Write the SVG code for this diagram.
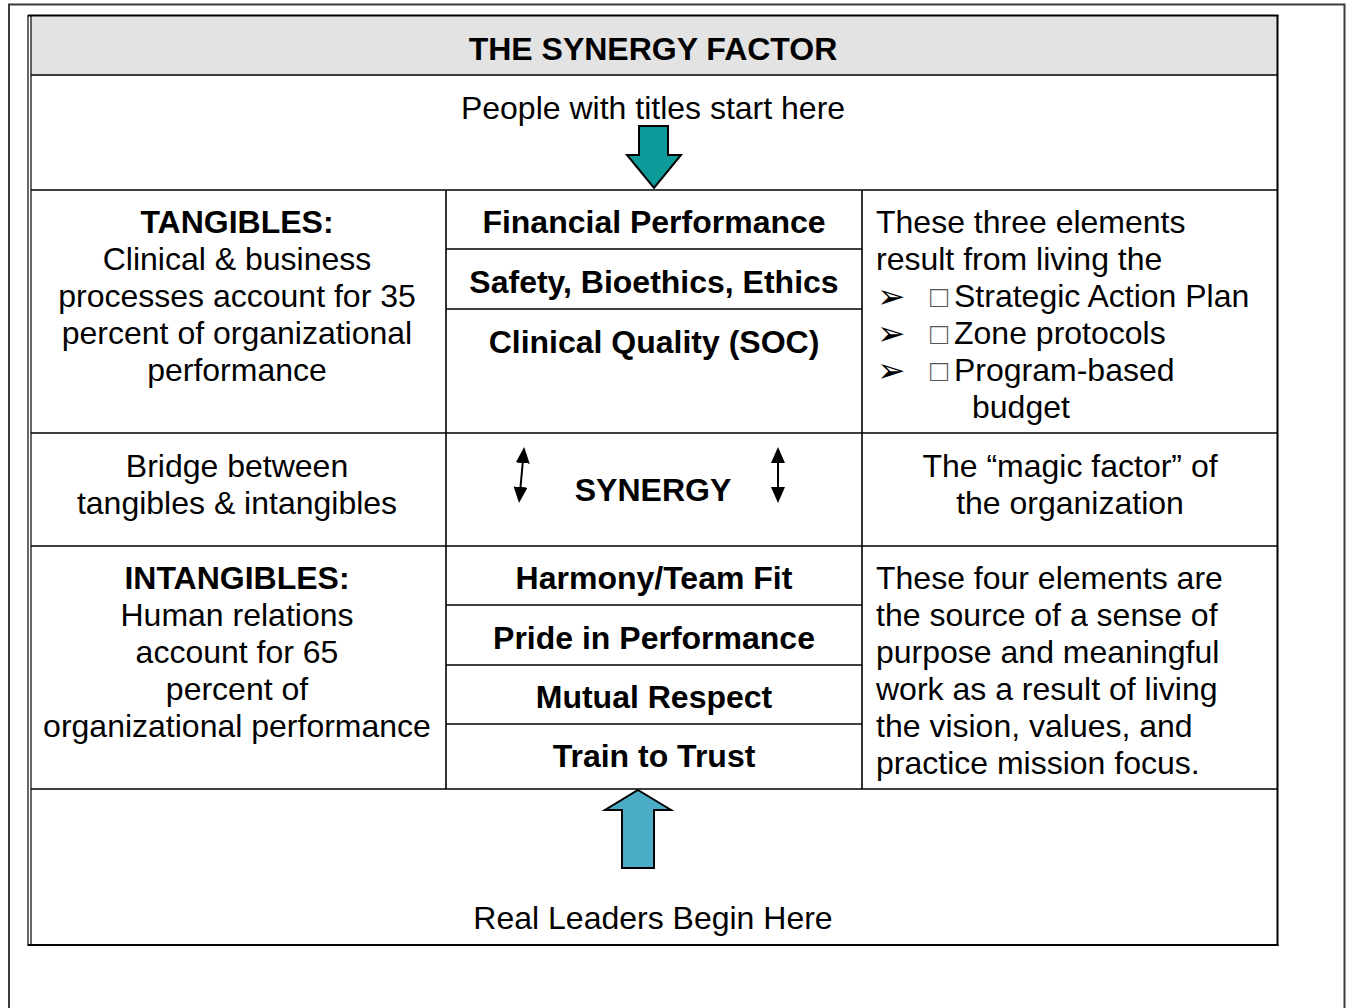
<svg xmlns="http://www.w3.org/2000/svg" width="1348" height="1008" viewBox="0 0 1348 1008">
  <style>
    text { font-family: "Liberation Sans", Arial, sans-serif; font-size: 32px; fill: #000; }
    .b { font-weight: bold; }
    .c { text-anchor: middle; }
    .grid { stroke: #000; stroke-width: 1.6; fill: none; }
    .frame { stroke: #3a3a3a; stroke-width: 2; fill: none; }
    .sym { font-family: "DejaVu Sans", sans-serif; font-size: 34px; }
    .box { font-size: 30px; fill: #555; }
    .block { stroke: #000; stroke-width: 2; stroke-linejoin: miter; }
  </style>
  <defs>
    <marker id="head" viewBox="0 0 16 14" refX="1" refY="7" markerWidth="16" markerHeight="14" markerUnits="userSpaceOnUse" orient="auto-start-reverse">
      <path d="M0,0 L16,7 L0,14 z" fill="#000"/>
    </marker>
  </defs>

  <rect width="1348" height="1008" fill="#fff"/>

  <!-- page frame -->
  <path class="frame" d="M9,1010 V4.5 H1344.5 V1010"/>

  <!-- table outline and grid -->
  <g id="table">
    <rect x="31" y="16" width="1246" height="59" fill="#e3e3e3"/>
    <line x1="28" y1="15" x2="28" y2="946" stroke="#000" stroke-width="1.2"/>
    <line x1="31" y1="16" x2="31" y2="945" stroke="#000" stroke-width="1.2"/>
    <line x1="28" y1="15.5" x2="1278.5" y2="15.5" stroke="#000" stroke-width="2"/>
    <line x1="1277.5" y1="15" x2="1277.5" y2="946" stroke="#000" stroke-width="2"/>
    <line x1="28" y1="945" x2="1278.5" y2="945" stroke="#000" stroke-width="2"/>
    <line class="grid" x1="31" y1="75" x2="1278" y2="75" stroke-width="2"/>
    <line class="grid" x1="31" y1="190" x2="1278" y2="190"/>
    <line class="grid" x1="31" y1="433" x2="1278" y2="433"/>
    <line class="grid" x1="31" y1="546" x2="1278" y2="546"/>
    <line class="grid" x1="31" y1="789" x2="1278" y2="789"/>
    <line class="grid" x1="446" y1="190" x2="446" y2="789"/>
    <line class="grid" x1="862" y1="190" x2="862" y2="789"/>
    <line class="grid" x1="446" y1="249" x2="862" y2="249"/>
    <line class="grid" x1="446" y1="309" x2="862" y2="309"/>
    <line class="grid" x1="446" y1="605" x2="862" y2="605"/>
    <line class="grid" x1="446" y1="665" x2="862" y2="665"/>
    <line class="grid" x1="446" y1="724" x2="862" y2="724"/>
  </g>

  <g id="title">
    <text class="b c" x="653" y="60">THE SYNERGY FACTOR</text>
  </g>

  <g id="top-entry">
    <text class="c" x="653" y="119">People with titles start here</text>
    <polygon class="block" fill="#0f9a9a" points="639,126 668,126 668,155 681,155 654,188 627,155 639,155"/>
  </g>

  <g id="tangibles">
    <text class="c" x="237" y="233"><tspan class="b">TANGIBLES:</tspan></text>
    <text class="c" x="237" y="270">Clinical &amp; business</text>
    <text class="c" x="237" y="307">processes account for 35</text>
    <text class="c" x="237" y="344">percent of organizational</text>
    <text class="c" x="237" y="381">performance</text>
  </g>

  <g id="financial-performance">
    <text class="b c" x="654" y="233">Financial Performance</text>
  </g>
  <g id="safety-ethics">
    <text class="b c" x="654" y="293">Safety, Bioethics, Ethics</text>
  </g>
  <g id="clinical-quality">
    <text class="b c" x="654" y="353">Clinical Quality (SOC)</text>
  </g>

  <g id="three-elements">
    <text x="876" y="233">These three elements</text>
    <text x="876" y="270">result from living the</text>
    <text class="sym" x="877" y="308">➢</text>
    <text class="box" x="930" y="307">□</text>
    <text x="954" y="307">Strategic Action Plan</text>
    <text class="sym" x="877" y="345">➢</text>
    <text class="box" x="930" y="344">□</text>
    <text x="954" y="344">Zone protocols</text>
    <text class="sym" x="877" y="382">➢</text>
    <text class="box" x="930" y="381">□</text>
    <text x="954" y="381">Program-based</text>
    <text x="972" y="418">budget</text>
  </g>

  <g id="bridge">
    <text class="c" x="237" y="477">Bridge between</text>
    <text class="c" x="237" y="514">tangibles &amp; intangibles</text>
  </g>

  <g id="synergy">
    <text class="b c" x="653" y="501">SYNERGY</text>
  </g>

  <g id="magic-factor">
    <text class="c" x="1070" y="477">The “magic factor” of</text>
    <text class="c" x="1070" y="514">the organization</text>
  </g>

  <g id="intangibles">
    <text class="c" x="237" y="589"><tspan class="b">INTANGIBLES:</tspan></text>
    <text class="c" x="237" y="626">Human relations</text>
    <text class="c" x="237" y="663">account for 65</text>
    <text class="c" x="237" y="700">percent of</text>
    <text class="c" x="237" y="737">organizational performance</text>
  </g>

  <g id="harmony">
    <text class="b c" x="654" y="589">Harmony/Team Fit</text>
  </g>
  <g id="pride">
    <text class="b c" x="654" y="649">Pride in Performance</text>
  </g>
  <g id="mutual-respect">
    <text class="b c" x="654" y="708">Mutual Respect</text>
  </g>
  <g id="train-to-trust">
    <text class="b c" x="654" y="767">Train to Trust</text>
  </g>

  <g id="four-elements">
    <text x="876" y="589">These four elements are</text>
    <text x="876" y="626">the source of a sense of</text>
    <text x="876" y="663">purpose and meaningful</text>
    <text x="876" y="700">work as a result of living</text>
    <text x="876" y="737">the vision, values, and</text>
    <text x="876" y="774">practice mission focus.</text>
  </g>

  <g id="bottom-entry">
    <polygon class="block" fill="#4bacc6" points="638,790 671,810 654,810 654,868 622,868 622,810 605,810"/>
    <text class="c" x="653" y="929">Real Leaders Begin Here</text>
  </g>

  <!-- two-way arrows beside SYNERGY -->
  <g id="connectors" stroke="#000" stroke-width="2">
    <line x1="522.8" y1="462" x2="520.4" y2="488" marker-start="url(#head)" marker-end="url(#head)"/>
    <line x1="778" y1="462" x2="778" y2="488" marker-start="url(#head)" marker-end="url(#head)"/>
  </g>
</svg>
